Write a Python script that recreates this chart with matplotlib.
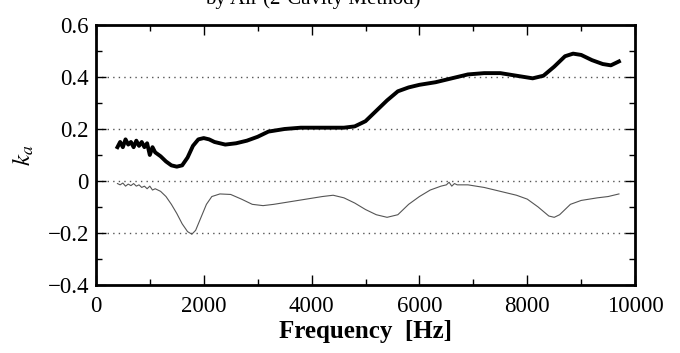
import matplotlib
matplotlib.use("Agg")
import matplotlib.pyplot as plt
from matplotlib.ticker import MultipleLocator

plt.rcParams['font.family'] = ['Liberation Serif', 'DejaVu Serif']
plt.rcParams['mathtext.fontset'] = 'stix'

# upper (thick) curve
freq_up = [400, 450, 500, 550, 600, 650, 700, 750, 800, 850, 900, 950, 1000, 1050,
           1100, 1200, 1300, 1400, 1500, 1600, 1700, 1800, 1900, 2000, 2100, 2200,
           2400, 2600, 2800, 3000, 3200, 3500, 3800, 4200, 4600, 4800, 5000, 5200,
           5400, 5600, 5800, 6000, 6300, 6600, 6900, 7200, 7500, 7800, 8100, 8300,
           8500, 8700, 8850, 9000, 9200, 9400, 9550, 9700]
ka_up = [0.13, 0.15, 0.13, 0.16, 0.14, 0.15, 0.13, 0.155, 0.135, 0.15, 0.13, 0.145,
         0.10, 0.13, 0.11, 0.095, 0.075, 0.06, 0.055, 0.06, 0.09, 0.135, 0.16, 0.165,
         0.16, 0.15, 0.14, 0.145, 0.155, 0.17, 0.19, 0.2, 0.205, 0.205, 0.205, 0.21,
         0.23, 0.27, 0.31, 0.345, 0.36, 0.37, 0.38, 0.395, 0.41, 0.415, 0.415, 0.405,
         0.395, 0.405, 0.44, 0.48, 0.49, 0.485, 0.465, 0.45, 0.445, 0.46]

# lower (thin) curve
freq_lo = [400, 450, 500, 550, 600, 650, 700, 750, 800, 850, 900, 950, 1000, 1050,
           1100, 1200, 1300, 1400, 1500, 1600, 1700, 1780, 1850, 1950, 2050, 2150,
           2300, 2500, 2700, 2900, 3100, 3300, 3600, 3900, 4200, 4400, 4600, 4800,
           5000, 5200, 5400, 5600, 5800, 6000, 6200, 6400, 6500, 6550, 6600, 6650,
           6700, 6900, 7200, 7500, 7800, 8000, 8200, 8400, 8500, 8600, 8800, 9000,
           9300, 9500, 9700]
ka_lo = [-0.01, -0.015, -0.008, -0.02, -0.012, -0.018, -0.01, -0.02, -0.015, -0.025,
         -0.02, -0.03, -0.02, -0.035, -0.03, -0.04, -0.06, -0.09, -0.125, -0.165,
         -0.195, -0.205, -0.19, -0.14, -0.09, -0.06, -0.05, -0.052, -0.07, -0.09,
         -0.095, -0.09, -0.08, -0.07, -0.06, -0.055, -0.065, -0.085, -0.11, -0.13,
         -0.14, -0.13, -0.09, -0.06, -0.035, -0.02, -0.015, -0.005, -0.02, -0.01,
         -0.015, -0.015, -0.025, -0.04, -0.055, -0.07, -0.1, -0.135, -0.14, -0.13,
         -0.09, -0.075, -0.065, -0.06, -0.05]

xticks = [0, 2000, 4000, 6000, 8000, 10000]
yticks = [-0.4, -0.2, 0, 0.2, 0.4, 0.6]
ytick_labels = ['\u22120.4', '\u22120.2', '0', '0.2', '0.4', '0.6']

fig = plt.figure(figsize=(6.8, 3.53), dpi=100)
ax = fig.add_axes([0.141, 0.193, 0.793, 0.736])

for y in [-0.2, 0, 0.2, 0.4]:
    ax.axhline(y, color='#555555', lw=1.0, ls=(0, (1, 3)), zorder=1)

ax.plot(freq_up, ka_up, color='black', lw=2.8, zorder=3)
ax.plot(freq_lo, ka_lo, color='#555555', lw=0.8, zorder=3)

ax.set_xlim(0, 10000)
ax.set_ylim(-0.4, 0.6)
ax.set_xticks(xticks)
ax.set_xticklabels([str(t) for t in xticks])
ax.set_yticks(yticks)
ax.set_yticklabels(ytick_labels)
ax.xaxis.set_minor_locator(MultipleLocator(1000))
ax.yaxis.set_minor_locator(MultipleLocator(0.1))
ax.tick_params(which='both', direction='in', top=True, right=True, labelsize=16.5)
ax.tick_params(axis='x', pad=8)
ax.tick_params(axis='y', pad=5)
ax.tick_params(which='major', length=7, width=1)
ax.tick_params(which='minor', length=4, width=1)
for s in ax.spines.values():
    s.set_linewidth(2)

ax.set_xlabel('Frequency  [Hz]', fontsize=18, fontweight='bold', labelpad=2)
ax.set_ylabel('$k_a$', fontsize=18, labelpad=8)

# title is cut off at the top edge in the reference
fig.text(0.46, 1.003, 'by Air (2-Cavity Method)', fontsize=15, ha='center', va='center')

fig.savefig('out.png', dpi=100)
